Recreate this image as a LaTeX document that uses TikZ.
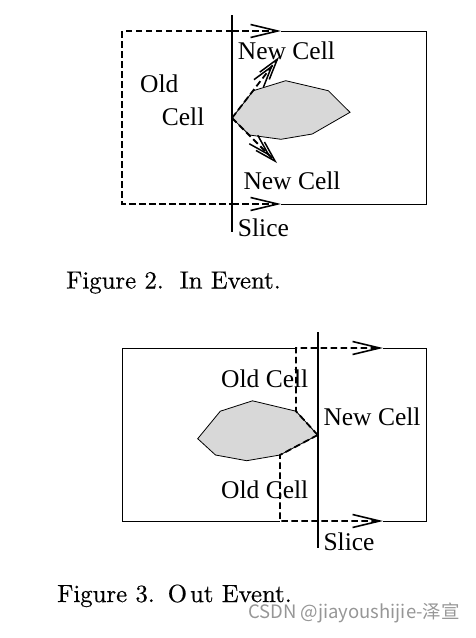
\documentclass[tikz,border=0pt]{standalone}
\usepackage{fontspec}
\newfontfamily\timesfont{Liberation Serif}
\newfontfamily\cjkfont{Noto Sans CJK SC}
\newfontfamily\capfont[FakeBold=0.5]{lmroman10-regular.otf}
\usetikzlibrary{arrows.meta}
\definecolor{objgray}{RGB}{216,216,216}
\definecolor{markgray}{RGB}{150,150,150}
\tikzset{
	cellframe/.style={line width=1pt},
	slice/.style={line width=2pt},
	oldedge/.style={line width=1.8pt, dash pattern=on 6.5pt off 3.5pt},
	sweep/.style={oldedge, -{Straight Barb[length=27pt, width=13pt, line width=1.6pt]}},
	spawn/.style={oldedge, -{Straight Barb[length=21pt, width=12pt, line width=1.5pt, sep=-15pt] Straight Barb[length=21pt, width=12pt, line width=1.5pt]}},
	obj/.style={draw, fill=objgray, line width=0.8pt},
	lbl/.style={anchor=west, inner sep=0pt, font=\timesfont\fontsize{25.5}{28}\selectfont},
	figcap/.style={anchor=base west, inner sep=0pt, font=\capfont\fontsize{24.8}{27}\selectfont},
}

\begin{document}
\begin{tikzpicture}[x=1pt, y=-1pt]
	\useasboundingbox (0,0) rectangle (476,638);
	% Figure 2: in event
	\coordinate (in) at (232,118);
	\coordinate (tl2) at (232,31);
	\coordinate (bl2) at (232,204);
	\coordinate (up2) at (279,57);
	\coordinate (dn2) at (277,163);
	\draw[obj] (in) -- (253.3,90.7) -- (285.7,80.7) -- (328.3,90.7) -- (350,112.3) -- (312.3,134) -- (281,139.3) -- (249.3,135) -- cycle;
	\draw[cellframe] (281,31) -- (426,31) -- (426,204) -- (281,204);
	\draw[oldedge] (tl2) -- (122,31) -- (122,204) -- (bl2);
	\draw[sweep] (tl2) -- (281,31);
	\draw[sweep] (bl2) -- (281,204);
	\draw[spawn] (in) -- (up2);
	\draw[spawn] (in) -- (dn2);
	\draw[slice] (232,15) -- (232,232);
	\node[lbl] (new2a) at (237.7,50.5) {New Cell};
	\node[lbl] (new2b) at (243.3,180.3) {New Cell};
	\node[lbl] (old2a) at (140,83.3) {Old};
	\node[lbl] (old2b) at (161.7,116.7) {Cell};
	\node[lbl] (slice2) at (237.7,227.3) {Slice};
	\node[figcap] (cap2) at (66,288.5) {Figure 2.\hspace{16pt}In Event.};
	% Figure 3: out event
	\coordinate (out) at (317.7,435);
	\coordinate (tv3) at (296,411.2);
	\coordinate (bv3) at (280,455);
	\draw[obj] (out) -- (bv3) -- (246.7,460.7) -- (215.5,455) -- (197.7,438.7) -- (220.3,411.2) -- (252.5,400.8) -- (tv3) -- cycle;
	\draw[cellframe] (296,348) -- (122,348) -- (122,521) -- (280,521);
	\draw[cellframe] (383,348) -- (426,348) -- (426,521) -- (383,521);
	\draw[sweep] (out) -- (tv3) -- (296,348) -- (383,348);
	\draw[sweep] (out) -- (bv3) -- (280,521) -- (383,521);
	\draw[slice] (317.7,332) -- (317.7,548);
	\node[lbl] (old3a) at (221,378.3) {Old Cell};
	\node[lbl] (new3) at (323.3,416.7) {New Cell};
	\node[lbl] (old3b) at (221,490) {Old Cell};
	\node[lbl] (slice3) at (323.3,541.7) {Slice};
	\node[figcap] (cap3) at (57,602) {Figure 3.\hspace{13pt}O\hspace{3pt}ut Event.};
	\node[anchor=base west, inner sep=0pt, font=\cjkfont\fontsize{18.5}{20}\selectfont, text=markgray] (mark) at (248,618) {CSDN @jiayoushijie-泽宣};
\end{tikzpicture}
\end{document}
